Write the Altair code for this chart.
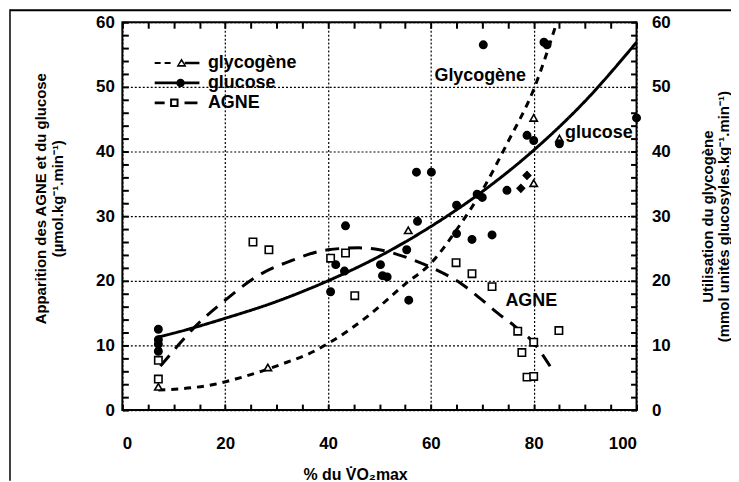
import altair as alt
import pandas as pd

# ---------------- data ----------------
series_names = ["glycogène", "glucose", "AGNE"]

# fitted curves
gluc_curve_x = [7, 10, 20, 30, 40, 50, 60, 70, 80, 90, 100]
gluc_curve_y = [11.3, 11.9, 14.2, 16.8, 20.0, 23.8, 28.4, 33.8, 40.2, 47.8, 56.9]
glyc_curve_x = [7, 14, 18, 22, 27, 32, 36, 40, 48, 55, 60, 65, 70, 75, 80, 84.5]
glyc_curve_y = [3.1, 3.5, 4.0, 4.8, 6.0, 7.4, 8.6, 10.3, 14.7, 19.5, 22.7, 27.9, 34.0, 41.5, 49.6, 60.0]
agne_curve_x = [7.4, 10.5, 14, 20, 26.4, 32.8, 40, 46, 50, 56, 60, 66, 70, 73, 76.3, 80, 83.5]
agne_curve_y = [6.8, 9.7, 12.8, 17.0, 20.8, 23.1, 24.8, 25.1, 24.8, 23.4, 22.1, 19.5, 17.0, 15.0, 13.0, 10.4, 6.4]

# measured points
gluc_x = [7, 7, 7, 7, 40.5, 41.5, 43.4, 43.2, 50.2, 50.6, 51.5, 55.3, 55.7, 57.2, 60.1, 57.4,
          65.0, 65.0, 68.0, 71.9, 69.0, 70.0, 74.8, 70.2, 82.0, 82.6, 78.7, 80.0, 85.0, 100]
gluc_y = [12.5, 10.9, 10.2, 9.1, 18.3, 22.5, 28.5, 21.5, 22.5, 20.8, 20.6, 24.8, 17.0, 36.8, 36.8, 29.2,
          31.7, 27.3, 26.4, 27.1, 33.4, 32.9, 34.0, 56.5, 56.9, 56.5, 42.5, 41.7, 41.2, 45.2]
glyc_x = [7, 28.3, 55.6, 80.0, 80.0, 85.0]
glyc_y = [3.6, 6.6, 27.8, 45.2, 35.1, 42.0]
agne_x = [7, 7, 25.4, 28.5, 40.5, 43.4, 45.2, 64.9, 68.0, 71.9, 76.9, 84.9, 80.0, 77.7, 78.7, 80.0]
agne_y = [7.7, 4.8, 26.0, 24.8, 23.5, 24.3, 17.7, 22.8, 21.1, 19.1, 12.2, 12.3, 10.5, 8.9, 5.1, 5.2]
diam_x = [78.7, 77.5]
diam_y = [36.3, 34.3]

# in-plot labels
ann_text = ["Glycogène", "glucose", "AGNE"]
ann_x = [60.7, 86.1, 74.5]
ann_y = [51.7, 42.9, 16.8]

x_labels = [0, 20, 40, 60, 80, 100]
y_labels = [0, 10, 20, 30, 40, 50, 60]

# ---------------- tables ----------------
curves = pd.concat([
    pd.DataFrame({"x": glyc_curve_x, "y": glyc_curve_y, "serie": "glycogène"}),
    pd.DataFrame({"x": gluc_curve_x, "y": gluc_curve_y, "serie": "glucose"}),
    pd.DataFrame({"x": agne_curve_x, "y": agne_curve_y, "serie": "AGNE"}),
], ignore_index=True)

points = pd.concat([
    pd.DataFrame({"x": glyc_x, "y": glyc_y, "type": "glycogène"}),
    pd.DataFrame({"x": gluc_x, "y": gluc_y, "type": "glucose"}),
    pd.DataFrame({"x": agne_x, "y": agne_y, "type": "AGNE"}),
    pd.DataFrame({"x": diam_x, "y": diam_y, "type": "losange"}),
], ignore_index=True)
points["legende"] = points["type"]

ann = pd.DataFrame({"x": ann_x, "y": ann_y, "label": ann_text})

FONT = "Liberation Sans"
xscale = alt.Scale(domain=[0, 100], nice=False, zero=False)
yscale = alt.Scale(domain=[0, 60], nice=False, zero=False)

def tick_axis(orient, step, top):
    # inward minor ticks: axis moved into the plot by the tick length
    return alt.Axis(orient=orient, values=list(range(0, top + 1, step)), tickSize=6,
                    offset=-6, labels=False, domain=False, grid=False, title="",
                    tickColor="black", tickWidth=2)

# ---------------- layers ----------------
lines = alt.Chart(curves).mark_line(
    interpolate="monotone", stroke="black", strokeWidth=3, clip=True
).encode(
    x=alt.X("x:Q", scale=xscale, axis=alt.Axis(
        orient="bottom", values=x_labels, tickSize=0, domain=False,
        grid=True, gridColor="black", gridDash=[2, 2], gridWidth=1.2,
        labelPadding=26, labelFontSize=17, labelFont=FONT, labelFontWeight="bold",
        labelColor="black", title="% du V̇O₂max", titleFont=FONT, titleFontSize=16,
        titleFontWeight="bold", titleColor="black", titlePadding=15, titleX=234)),
    y=alt.Y("y:Q", scale=yscale, axis=alt.Axis(
        orient="left", values=y_labels, tickSize=0, domain=False,
        grid=True, gridColor="black", gridDash=[2, 2], gridWidth=1.2,
        labelPadding=8, labelFontSize=17, labelFont=FONT, labelFontWeight="bold",
        labelColor="black",
        title=["Apparition des AGNE et du glucose", "(µmol.kg⁻¹.min⁻¹)"],
        titleFont=FONT, titleFontSize=15, titleFontWeight="bold", titleColor="black",
        titlePadding=30, titleY=177)),
    strokeDash=alt.StrokeDash("serie:N", scale=alt.Scale(
        domain=series_names, range=[[7, 6], [1, 0], [14, 9]]), legend=None),
    detail="serie:N",
)

pts = alt.Chart(points).mark_point(
    filled=True, stroke="black", strokeWidth=1.6, opacity=1
).encode(
    x=alt.X("x:Q", scale=xscale, axis=tick_axis("top", 5, 100)),
    y=alt.Y("y:Q", scale=yscale, axis=alt.Axis(
        orient="right", values=y_labels, tickSize=0, domain=False, grid=False,
        labelPadding=15, labelFontSize=17, labelFont=FONT, labelFontWeight="bold",
        labelColor="black",
        title=["Utilisation du glycogène", "(mmol unités glucosyles.kg⁻¹.min⁻¹)"],
        titleFont=FONT, titleFontSize=15, titleFontWeight="bold", titleColor="black",
        titleAngle=270, titlePadding=28)),
    shape=alt.Shape("type:N", scale=alt.Scale(
        domain=series_names + ["losange"],
        range=["triangle-up", "circle", "square", "diamond"]), legend=None),
    fill=alt.Fill("type:N", scale=alt.Scale(
        domain=series_names + ["losange"],
        range=["white", "black", "white", "black"]), legend=None),
    size=alt.Size("type:N", scale=alt.Scale(
        domain=series_names + ["losange"], range=[55, 55, 60, 90]), legend=None),
)

texts = alt.Chart(ann).mark_text(
    align="left", baseline="middle", fontSize=18, font=FONT, fontWeight="bold",
    color="black"
).encode(
    x=alt.X("x:Q", scale=xscale, axis=tick_axis("bottom", 5, 100)),
    y=alt.Y("y:Q", scale=yscale, axis=tick_axis("left", 2, 60)),
    text="label:N",
)

# legend glyphs: line segments + marker, drawn as filled outlines (holes by reversed winding)
legend_paths = [
    "M-4.5,-0.2H-3.3V0.2H-4.5Z M-2.5,-0.2H-1.3V0.2H-2.5Z "
    "M0.9,-0.95L1.9,0.75H-0.1Z M0.9,-0.3L0.4,0.42H1.4Z "
    "M1.55,-0.25H4.5V0.25H1.55Z",
    "M-4.5,-0.28H4.5V0.28H-4.5Z M1.55,0A0.85,0.85,0,1,1,-0.15,0A0.85,0.85,0,1,1,1.55,0Z",
    "M-4.5,-0.28H-2.5V0.28H-4.5Z M-1.4,-0.85H0.3V0.85H-1.4Z M-1.0,-0.45V0.45H-0.1V-0.45Z "
    "M1.5,-0.28H4.1V0.28H1.5Z",
]
leg = alt.Legend(orient="none", legendX=46, legendY=32, title=None, symbolSize=100,
                 labelFontSize=18, labelFont=FONT, labelFontWeight="bold",
                 labelColor="black", labelOffset=22, rowPadding=2, padding=0)
legend_layer = alt.Chart(points).transform_filter("false").mark_point(
    filled=True, color="black", size=100, opacity=1
).encode(
    x=alt.X("x:Q", scale=xscale, axis=None),
    y=alt.Y("y:Q", scale=yscale, axis=tick_axis("right", 2, 60)),
    shape=alt.Shape("legende:N", scale=alt.Scale(domain=series_names, range=legend_paths), legend=leg),
)

frame_df = pd.DataFrame({"k": [0]})
frame_left = alt.Chart(frame_df).mark_rule(stroke="black", strokeWidth=1.5).encode(
    x=alt.value(-113), y=alt.value(-13), y2=alt.value(461))
frame_top = alt.Chart(frame_df).mark_rule(stroke="black", strokeWidth=2).encode(
    x=alt.value(-113), x2=alt.value(612), y=alt.value(-12))

chart = alt.layer(lines, pts, texts, legend_layer, frame_left, frame_top).resolve_axis(
    x="independent", y="independent"
).resolve_scale(
    shape="independent", fill="independent"
).properties(
    width=517, height=390, autosize="none",
    padding={"left": 115, "top": 13, "right": 95, "bottom": 71},
).configure_view(stroke="black", strokeWidth=2)

chart.save("out.html", embed_options={"renderer": "svg", "actions": False})
